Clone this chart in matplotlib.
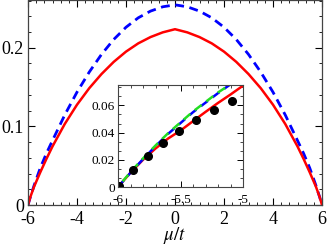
import matplotlib
matplotlib.use("Agg")
import matplotlib.pyplot as plt
from matplotlib.ticker import MultipleLocator, AutoMinorLocator

plt.rcParams['font.family'] = ['Liberation Serif', 'DejaVu Serif']
plt.rcParams['mathtext.fontset'] = 'stix'
plt.rcParams['axes.unicode_minus'] = False

# ==========================
# Data
# ==========================
mu_main = [-6, -5.9, -5.75, -5.5, -5.25, -5, -4.5, -4, -3.5, -3, -2.5, -2, -1.5, -1, -0.5, 0,
           0.5, 1, 1.5, 2, 2.5, 3, 3.5, 4, 4.5, 5, 5.25, 5.5, 5.75, 5.9, 6]
red_main = [0, 0.0105, 0.0235, 0.0415, 0.0585, 0.0745, 0.103, 0.1275, 0.1485, 0.1665, 0.182,
            0.195, 0.2055, 0.2135, 0.2195, 0.2235,
            0.2195, 0.2135, 0.2055, 0.195, 0.182, 0.1665, 0.1485, 0.1275, 0.103, 0.0745,
            0.0585, 0.0415, 0.0235, 0.0105, 0]
blue_main = [0, 0.0105, 0.025, 0.047, 0.0655, 0.082, 0.1145, 0.1435, 0.169, 0.1915, 0.2105,
             0.226, 0.238, 0.2465, 0.252, 0.2545,
             0.252, 0.2465, 0.238, 0.226, 0.2105, 0.1915, 0.169, 0.1435, 0.1145, 0.082,
             0.0655, 0.047, 0.025, 0.0105, 0]

mu_in = [-6, -5.9, -5.8, -5.7, -5.6, -5.5, -5.4, -5.3, -5.2, -5.1, -5.0]
red_in = [0, 0.0105, 0.020, 0.0283, 0.0356, 0.0415, 0.0484, 0.0552, 0.0618, 0.068, 0.0745]
blue_in = [0, 0.0105, 0.0205, 0.030, 0.039, 0.047, 0.055, 0.062, 0.069, 0.0755, 0.082]
green_in = [0, 0.011, 0.021, 0.0305, 0.0395, 0.0475, 0.0555, 0.0625, 0.0695, 0.0755, 0.082]

mu_dots = [-5.992, -5.878, -5.762, -5.638, -5.512, -5.376, -5.234, -5.088]
val_dots = [0.0007, 0.0124, 0.0225, 0.0324, 0.0412, 0.0495, 0.0568, 0.0632]

# ==========================
# Main plot
# ==========================
fig = plt.figure(figsize=(3.27, 2.45), dpi=100)
ax = fig.add_axes([28/327, 40/245, 294/327, 204.5/245])

ax.plot(mu_main, blue_main, color='#0000ff', lw=2.0, linestyle=(0, (3.2, 2.0)))
ax.plot(mu_main, red_main, color='#ff0000', lw=1.8)

ax.set_xlim(-6, 6)
ax.set_ylim(0, 0.26)
ax.xaxis.set_major_locator(MultipleLocator(2))
ax.xaxis.set_minor_locator(AutoMinorLocator(6))
ax.yaxis.set_minor_locator(AutoMinorLocator(5))
ax.set_yticks([0, 0.1, 0.2])
ax.set_yticklabels(["0", "0.1", "0.2"])
ax.tick_params(which='both', direction='in', top=True, right=True, labelsize=13)
ax.tick_params(which='major', length=5, width=0.8)
ax.tick_params(which='minor', length=2.5, width=0.6)
ax.tick_params(axis='x', pad=4)
ax.tick_params(axis='y', pad=3)
for s in ax.spines.values():
    s.set_linewidth(0.9)
    s.set_color('#444444')

ax.set_xlabel(r"$\mu/t$", fontsize=13.5, labelpad=-2)

# ==========================
# Inset
# ==========================
ins = fig.add_axes([118/327, 58/245, 125/327, 102/245])
ins.plot(mu_in, red_in, color='#ff0000', lw=1.8)
ins.plot(mu_in, blue_in, color='#0000ff', lw=1.8, linestyle=(0, (3.5, 2.3)))
ins.plot(mu_in, green_in, color='#22dd22', lw=1.8, linestyle=(2.9, (3.5, 2.3)))
ins.plot(mu_dots, val_dots, 'o', color='black', ms=5.5)

ins.set_xlim(-6, -5)
ins.set_ylim(0, 0.075)
ins.set_xticks([-6, -5.5, -5])
ins.set_xticklabels(["-6", "-5.5", "-5"])
ins.xaxis.set_minor_locator(MultipleLocator(0.1))
ins.set_yticks([0, 0.02, 0.04, 0.06])
ins.set_yticklabels(["0", "0.02", "0.04", "0.06"])
ins.yaxis.set_minor_locator(AutoMinorLocator(3))
ins.tick_params(which='both', direction='in', top=True, right=True, labelsize=9.5)
ins.tick_params(which='major', length=4, width=0.7)
ins.tick_params(which='minor', length=2, width=0.5)
ins.tick_params(axis='x', pad=5)
ins.tick_params(axis='y', pad=2)
for s in ins.spines.values():
    s.set_linewidth(0.8)
    s.set_color('#444444')

fig.savefig("out.png", dpi=100)
